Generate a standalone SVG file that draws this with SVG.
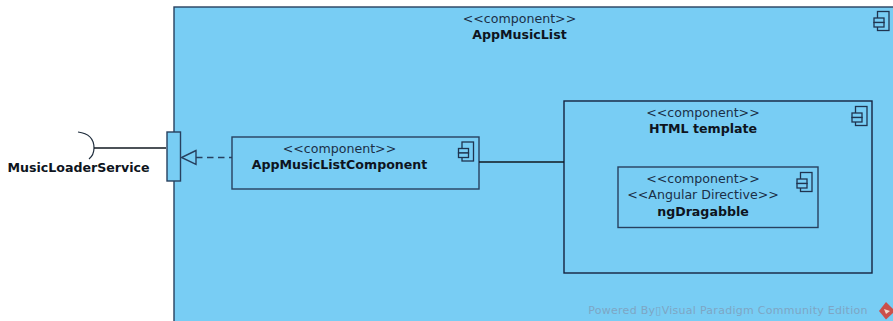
<svg xmlns="http://www.w3.org/2000/svg" width="893" height="321" viewBox="0 0 893 321">
<style>
text{font-family:"DejaVu Sans",Verdana,sans-serif;font-size:12.6px;fill:#1b2f47;text-anchor:middle}
.b{font-weight:bold;fill:#0e1420}
.box{fill:#78cdf4;stroke:#27405f;stroke-width:1.4}
.ic{fill:#78cdf4;stroke:#1f3450;stroke-width:1.3}
.ln{fill:none;stroke:#101820;stroke-width:1.4}
</style>
<defs>
<g id="icon" class="ic">
<rect x="-11.500" y="0.500" width="11.500" height="19"/>
<rect x="-15" y="7" width="10" height="4.500"/>
<rect x="-15" y="11.500" width="10" height="4.500"/>
</g>
</defs>
<g id="AppMusicList">
<rect class="box" x="174" y="7" width="740" height="330"/>
<text x="519.500" y="23">&lt;&lt;component&gt;&gt;</text>
<text class="b" x="519.500" y="39">AppMusicList</text>
<use href="#icon" x="889" y="11"/>
</g>
<g id="MusicLoaderService">
<path d="M78 132Q94 134 94 148Q94 155 89 159" fill="none" stroke="#1f2d3d" stroke-width="1.2"/>
<text class="b" x="78.500" y="172">MusicLoaderService</text>
</g>
<g id="Port">
<rect class="box" x="167" y="132" width="13.500" height="49"/>
</g>
<g id="AppMusicListComponent">
<rect class="box" x="232" y="137" width="247" height="52"/>
<text x="339.500" y="153">&lt;&lt;component&gt;&gt;</text>
<text class="b" x="339.500" y="169">AppMusicListComponent</text>
<use href="#icon" x="473.500" y="141.500"/>
</g>
<g id="HTMLTemplate">
<rect class="box" x="564" y="101" width="308" height="172" style="stroke:#14233f"/>
<text x="703" y="117">&lt;&lt;component&gt;&gt;</text>
<text class="b" x="703" y="133">HTML template</text>
<use href="#icon" x="867" y="106"/>
</g>
<g id="ngDragabble">
<rect class="box" x="618" y="167" width="200" height="60.500"/>
<text x="703" y="183">&lt;&lt;component&gt;&gt;</text>
<text x="703" y="199">&lt;&lt;Angular Directive&gt;&gt;</text>
<text class="b" x="703" y="216">ngDragabble</text>
<use href="#icon" x="812" y="172"/>
</g>
<g id="connectors">
<path class="ln" d="M94 148H166"/>
<path class="ln" d="M479 162H564"/>
<path d="M196 157.500H232" fill="none" stroke="#27405f" stroke-width="1.4" stroke-dasharray="6.500 4.500"/>
<path d="M196 150.500L181.500 157.500L196 164.500Z" fill="none" stroke="#27405f" stroke-width="1.4"/>
</g>
<g id="watermark">
<text x="728" y="314" style="font-size:11px;fill:#7ea6c4;letter-spacing:.28px">Powered By▯Visual Paradigm Community Edition</text>
<path d="M886 302L894 310V312L886 319.500L879 311Z" fill="#cb4f4a"/>
<path d="M884 309L890 311L886 314Z" fill="#f0d8cc"/>
</g>
</svg>
